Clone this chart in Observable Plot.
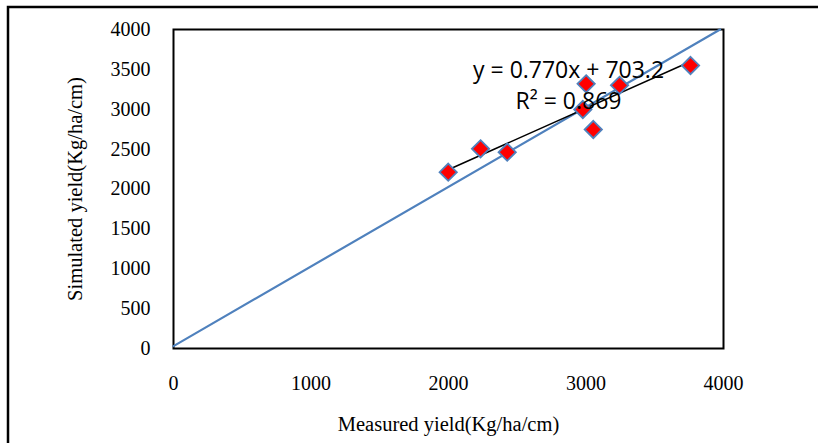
<!DOCTYPE html>
<html>
<head>
<meta charset="utf-8">
<script src="https://cdn.jsdelivr.net/npm/d3@7"></script>
<script src="https://cdn.jsdelivr.net/npm/@observablehq/plot@0.6"></script>
<style>
  html, body { margin: 0; padding: 0; background: #fff; }
  #chart svg { display: block; }
</style>
</head>
<body>
<div id="chart"></div>
<script>
// Measured vs simulated yield (Kg/ha/cm)
const measured  = [1998, 2233, 2427, 2977, 3001, 3053, 3244, 3760];
const simulated = [2211, 2504, 2462, 2997, 3319, 2746, 3300, 3549];

// 1:1 reference line (as drawn)
const refX = [0, 3975];
const refY = [30, 4000];

// Linear trendline
const slope = 0.770;
const intercept = 703.2;
const eqLines = ["y = 0.770x + 703.2", "R² = 0.869"];
const eqX = [2873, 2873];
const eqY = [3486, 3095];

const xTicks = [0, 1000, 2000, 3000, 4000];
const yTicks = [0, 500, 1000, 1500, 2000, 2500, 3000, 3500, 4000];

const points = measured.map((m, i) => ({x: m, y: simulated[i]}));
const refLine = refX.map((x, i) => ({x, y: refY[i]}));
const xmin = d3.min(measured), xmax = d3.max(measured);
const trend = [xmin, xmax].map(x => ({x, y: slope * x + intercept}));
const eqs = eqLines.map((t, i) => ({t, x: eqX[i], y: eqY[i]}));

const serif = "'Liberation Serif', 'Times New Roman', serif";

const plot = Plot.plot({
  width: 818,
  height: 443,
  marginLeft: 173,
  marginRight: 95,
  marginTop: 29,
  marginBottom: 95,
  style: {fontFamily: serif, fontSize: "20px", background: "#fff", color: "#000"},
  x: {domain: [0, 4000], ticks: xTicks, tickSize: 0, tickPadding: 27, label: null, tickFormat: d => String(d)},
  y: {domain: [0, 4000], ticks: yTicks, tickSize: 0, tickPadding: 23, label: null, tickFormat: d => String(d)},
  marks: [
    Plot.frame({stroke: "#000", strokeWidth: 2}),
    Plot.line(refLine, {x: "x", y: "y", stroke: "#4F81BD", strokeWidth: 2.2}),
    Plot.line(trend, {x: "x", y: "y", stroke: "#000", strokeWidth: 1.5}),
    Plot.dot(points, {x: "x", y: "y", symbol: "diamond2", r: 7.8, fill: "#FF0000", stroke: "#4F81BD", strokeWidth: 1.8}),
    Plot.text(eqs, {x: "x", y: "y", text: "t", fontFamily: "'Open Sans', 'Liberation Sans', sans-serif", fontSize: 23, fill: "#000"}),
    Plot.text(["Simulated yield(Kg/ha/cm)"], {frameAnchor: "left", textAnchor: "middle", dx: -98, rotate: -90, fontFamily: serif, fontSize: 20.5, fill: "#000"}),
    Plot.text(["Measured yield(Kg/ha/cm)"], {frameAnchor: "bottom", textAnchor: "middle", dy: 82, fontFamily: serif, fontSize: 20.5, fill: "#000"})
  ]
});

d3.select(plot).append("rect")
  .attr("x", 8).attr("y", 7).attr("width", 830).attr("height", 460)
  .attr("fill", "none").attr("stroke", "#000").attr("stroke-width", 2.5);

d3.select(plot).selectAll("g[aria-label='x-axis tick label'] text, g[aria-label='y-axis tick label'] text")
  .attr("fill", "#000");

document.getElementById("chart").appendChild(plot);
</script>
</body>
</html>
